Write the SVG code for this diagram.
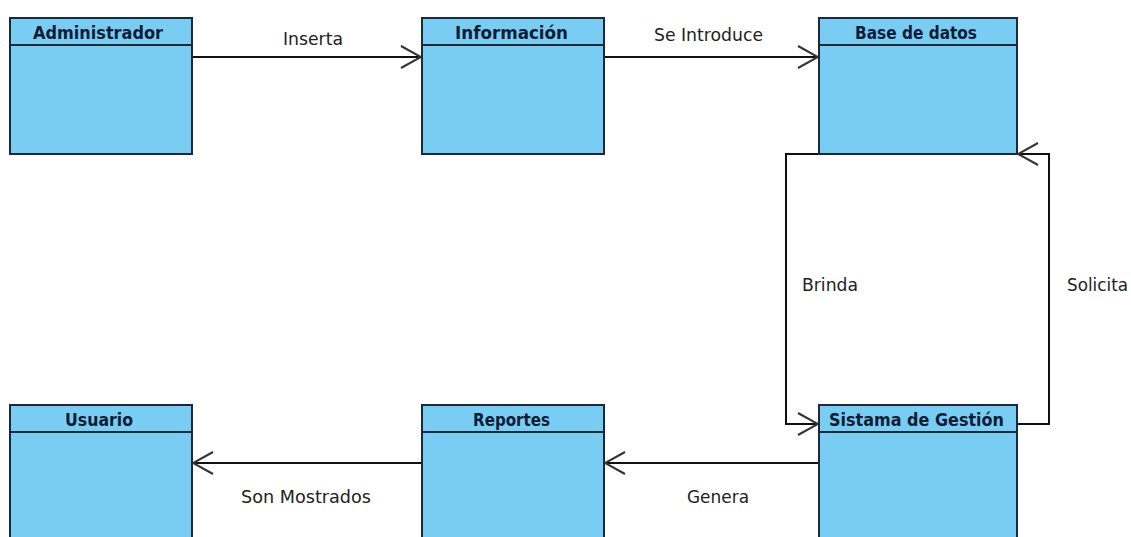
<svg xmlns="http://www.w3.org/2000/svg" width="1131" height="537" viewBox="0 0 1131 537">
<defs>
<style>
.box{fill:#7acdf2;stroke:#1a2a3a;stroke-width:2}
.hdr{fill:none;stroke:#1a2a3a;stroke-width:2}
.title{font-family:"DejaVu Sans Condensed","DejaVu Sans",sans-serif;font-weight:bold;font-size:18px;fill:#0c1c36}
.lbl{font-family:"DejaVu Sans Condensed","DejaVu Sans",sans-serif;font-size:17px;fill:#222}
.edge{fill:none;stroke:#111;stroke-width:2}
</style>
<marker id="open" viewBox="0 0 22 26" refX="21" refY="13" markerWidth="22" markerHeight="26" markerUnits="userSpaceOnUse" orient="auto">
<path d="M1,2 L21,13 L1,24" fill="none" stroke="#333" stroke-width="2"/>
</marker>
</defs>
<rect width="1131" height="537" fill="#fff"/>
<g id="connectors">
<path class="edge" d="M192,57 H421" marker-end="url(#open)"/>
<path class="edge" d="M604,57 H818" marker-end="url(#open)"/>
<path class="edge" d="M819,154 H786 V424 H818" marker-end="url(#open)"/>
<path class="edge" d="M1017,424 H1049 V154 H1018" marker-end="url(#open)"/>
<path class="edge" d="M819,463 H605" marker-end="url(#open)"/>
<path class="edge" d="M422,463 H193" marker-end="url(#open)"/>
<text class="lbl" x="283" y="45" textLength="60" lengthAdjust="spacingAndGlyphs">Inserta</text>
<text class="lbl" x="654" y="41" textLength="109" lengthAdjust="spacingAndGlyphs">Se Introduce</text>
<text class="lbl" x="802" y="291" textLength="56" lengthAdjust="spacingAndGlyphs">Brinda</text>
<text class="lbl" x="1067" y="291" textLength="61" lengthAdjust="spacingAndGlyphs">Solicita</text>
<text class="lbl" x="687" y="503" textLength="62" lengthAdjust="spacingAndGlyphs">Genera</text>
<text class="lbl" x="241" y="503" textLength="130" lengthAdjust="spacingAndGlyphs">Son Mostrados</text>
</g>
<g id="administrador">
<rect class="box" x="10" y="18" width="182" height="136"/>
<line class="hdr" x1="10" y1="45" x2="192" y2="45"/>
<text class="title" x="33" y="39" textLength="130" lengthAdjust="spacingAndGlyphs">Administrador</text>
</g>
<g id="informacion">
<rect class="box" x="422" y="18" width="182" height="136"/>
<line class="hdr" x1="422" y1="45" x2="604" y2="45"/>
<text class="title" x="455" y="39" textLength="113" lengthAdjust="spacingAndGlyphs">Información</text>
</g>
<g id="basedatos">
<rect class="box" x="819" y="18" width="198" height="136"/>
<line class="hdr" x1="819" y1="45" x2="1017" y2="45"/>
<text class="title" x="855" y="39" textLength="122" lengthAdjust="spacingAndGlyphs">Base de datos</text>
</g>
<g id="usuario">
<rect class="box" x="10" y="405" width="182" height="140"/>
<line class="hdr" x1="10" y1="432" x2="192" y2="432"/>
<text class="title" x="65" y="426" textLength="68" lengthAdjust="spacingAndGlyphs">Usuario</text>
</g>
<g id="reportes">
<rect class="box" x="422" y="405" width="182" height="140"/>
<line class="hdr" x1="422" y1="432" x2="604" y2="432"/>
<text class="title" x="473" y="426" textLength="77" lengthAdjust="spacingAndGlyphs">Reportes</text>
</g>
<g id="sistema">
<rect class="box" x="819" y="405" width="198" height="140"/>
<line class="hdr" x1="819" y1="432" x2="1017" y2="432"/>
<text class="title" x="829" y="426" textLength="175" lengthAdjust="spacingAndGlyphs">Sistama de Gestión</text>
</g>
</svg>
